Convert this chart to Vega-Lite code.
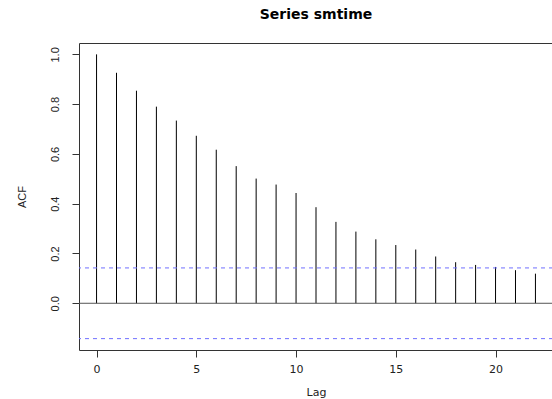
{
  "$schema": "https://vega.github.io/schema/vega-lite/v6.json",
  "width": 474,
  "height": 307,
  "padding": {"left": 79, "top": 43, "right": 0, "bottom": 49},
  "autosize": {"type": "none"},
  "background": "white",
  "config": {
    "view": {"stroke": "#333333", "strokeWidth": 1},
    "font": "Liberation Sans"
  },
  "title": {
    "text": "Series  smtime",
    "fontSize": 14,
    "fontWeight": "bold",
    "font": "DejaVu Sans",
    "color": "black",
    "anchor": "middle",
    "offset": 21
  },
  "datasets": {
    "acf": [
      {"lag": 0, "acf": 1.0},
      {"lag": 1, "acf": 0.926},
      {"lag": 2, "acf": 0.854},
      {"lag": 3, "acf": 0.79},
      {"lag": 4, "acf": 0.734},
      {"lag": 5, "acf": 0.673},
      {"lag": 6, "acf": 0.617},
      {"lag": 7, "acf": 0.551},
      {"lag": 8, "acf": 0.501},
      {"lag": 9, "acf": 0.477},
      {"lag": 10, "acf": 0.443},
      {"lag": 11, "acf": 0.386},
      {"lag": 12, "acf": 0.327},
      {"lag": 13, "acf": 0.288},
      {"lag": 14, "acf": 0.257},
      {"lag": 15, "acf": 0.234},
      {"lag": 16, "acf": 0.216},
      {"lag": 17, "acf": 0.188},
      {"lag": 18, "acf": 0.165},
      {"lag": 19, "acf": 0.154},
      {"lag": 20, "acf": 0.146},
      {"lag": 21, "acf": 0.133},
      {"lag": 22, "acf": 0.119}
    ],
    "ci": [
      {"bound": 0.142},
      {"bound": -0.142}
    ],
    "zero": [
      {"level": 0}
    ]
  },
  "layer": [
    {
      "data": {"name": "acf"},
      "mark": {"type": "rule", "color": "black", "strokeWidth": 1},
      "encoding": {
        "x": {
          "field": "lag",
          "type": "quantitative",
          "scale": {"domain": [-0.88, 22.88], "nice": false, "zero": false},
          "axis": {
            "title": "Lag",
            "values": [0, 5, 10, 15, 20],
            "grid": false,
            "domain": false,
            "tickColor": "#333333",
            "tickSize": 7,
            "labelFont": "DejaVu Sans",
            "labelFontSize": 11,
            "labelColor": "#222222",
            "labelPadding": 6,
            "titleFont": "DejaVu Sans",
            "titleFontSize": 11,
            "titleFontWeight": "normal",
            "titleColor": "#222222",
            "titlePadding": 12
          }
        },
        "y": {
          "field": "acf",
          "type": "quantitative",
          "scale": {"domain": [-0.1877, 1.0457], "nice": false, "zero": false},
          "axis": {
            "title": "ACF",
            "values": [0, 0.2, 0.4, 0.6, 0.8, 1.0],
            "format": ".1f",
            "grid": false,
            "domain": false,
            "tickColor": "#333333",
            "tickSize": 7,
            "labelAngle": -90,
            "labelAlign": "center",
            "labelBaseline": "bottom",
            "labelFontSize": 11,
            "labelColor": "#222222",
            "labelPadding": 12,
            "titleFontSize": 11,
            "titleFontWeight": "normal",
            "titleColor": "#222222",
            "titlePadding": 22
          }
        },
        "y2": {"datum": 0}
      }
    },
    {
      "data": {"name": "zero"},
      "mark": {"type": "rule", "color": "#555555", "strokeWidth": 1},
      "encoding": {"y": {"field": "level", "type": "quantitative"}}
    },
    {
      "data": {"name": "ci"},
      "mark": {"type": "rule", "color": "#6f6fff", "strokeWidth": 1, "strokeDash": [4, 4]},
      "encoding": {"y": {"field": "bound", "type": "quantitative"}}
    }
  ]
}
